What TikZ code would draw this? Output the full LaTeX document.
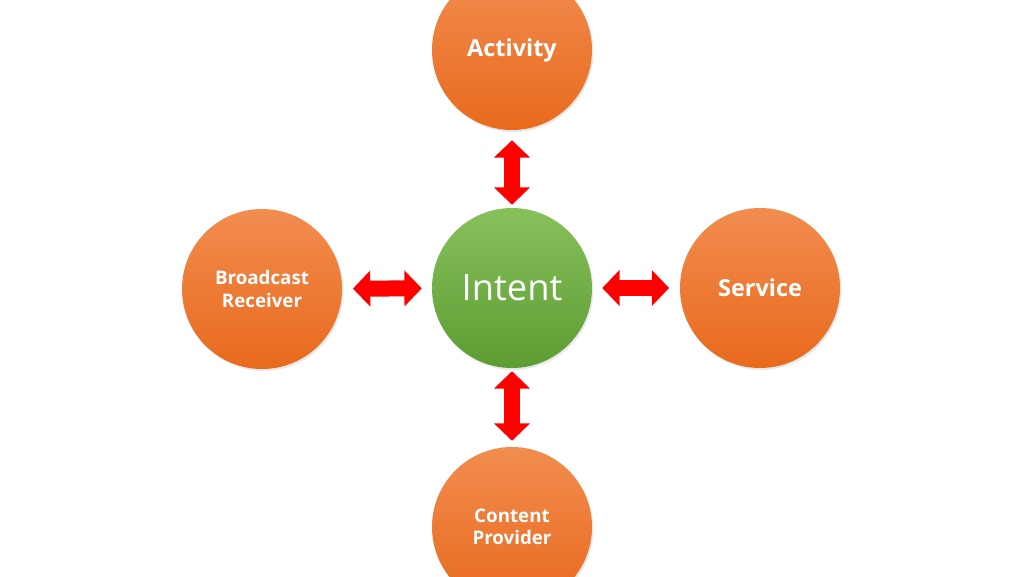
\documentclass[tikz,border=0pt]{standalone}
\usepackage{fontspec}
\setmainfont{Open Sans}
\usetikzlibrary{arrows.meta,shadows}
\definecolor{orTop}{HTML}{F28C50}
\definecolor{orBot}{HTML}{E86A1C}
\definecolor{grTop}{HTML}{88C05C}
\definecolor{grBot}{HTML}{5C9C32}
\definecolor{arrRed}{HTML}{FF0000}
\tikzset{
  px/.style={x=0.03cm,y=-0.03cm},
  orb/.style={circle, minimum size=4.8cm, inner sep=0pt, text=white, align=center,
    top color=orTop, bottom color=orBot, draw=none,
    drop shadow={opacity=0.18, shadow xshift=0.4mm, shadow yshift=-0.6mm}},
  greenorb/.style={orb, top color=grTop, bottom color=grBot},
  bigarrow/.style={draw=arrRed, line width=4.8mm,
    {Triangle[width=10.5mm,length=5.2mm]}-{Triangle[width=10.5mm,length=5.2mm]}},
}
\begin{document}
\begin{tikzpicture}[px]
\useasboundingbox (0,0) rectangle (1024,576);
\node[greenorb, font=\fontsize{31}{34}\selectfont] (intent) at (512,288) {Intent};
\node[orb, font=\bfseries\fontsize{20}{23}\selectfont] (act) at (512,50) {\raisebox{-1.5mm}{Activity}};
\node[orb, font=\bfseries\fontsize{20}{23}\selectfont] (svc) at (760,288) {Service};
\node[orb, font=\bfseries\fontsize{16}{19}\selectfont] (bcr) at (262,289) {Broadcast\\Receiver};
\node[orb, font=\bfseries\fontsize{16}{19}\selectfont] (cp) at (512,527) {Content\\Provider};
\draw[bigarrow, shorten <=3mm, shorten >=0.9mm] (act) -- (intent);
\draw[bigarrow, shorten <=0.9mm, shorten >=1.8mm] (intent) -- (cp);
\draw[bigarrow, shorten <=3.2mm, shorten >=3mm] (bcr) -- (intent);
\draw[bigarrow, shorten <=3mm, shorten >=3.2mm] (intent) -- (svc);
\end{tikzpicture}
\end{document}
